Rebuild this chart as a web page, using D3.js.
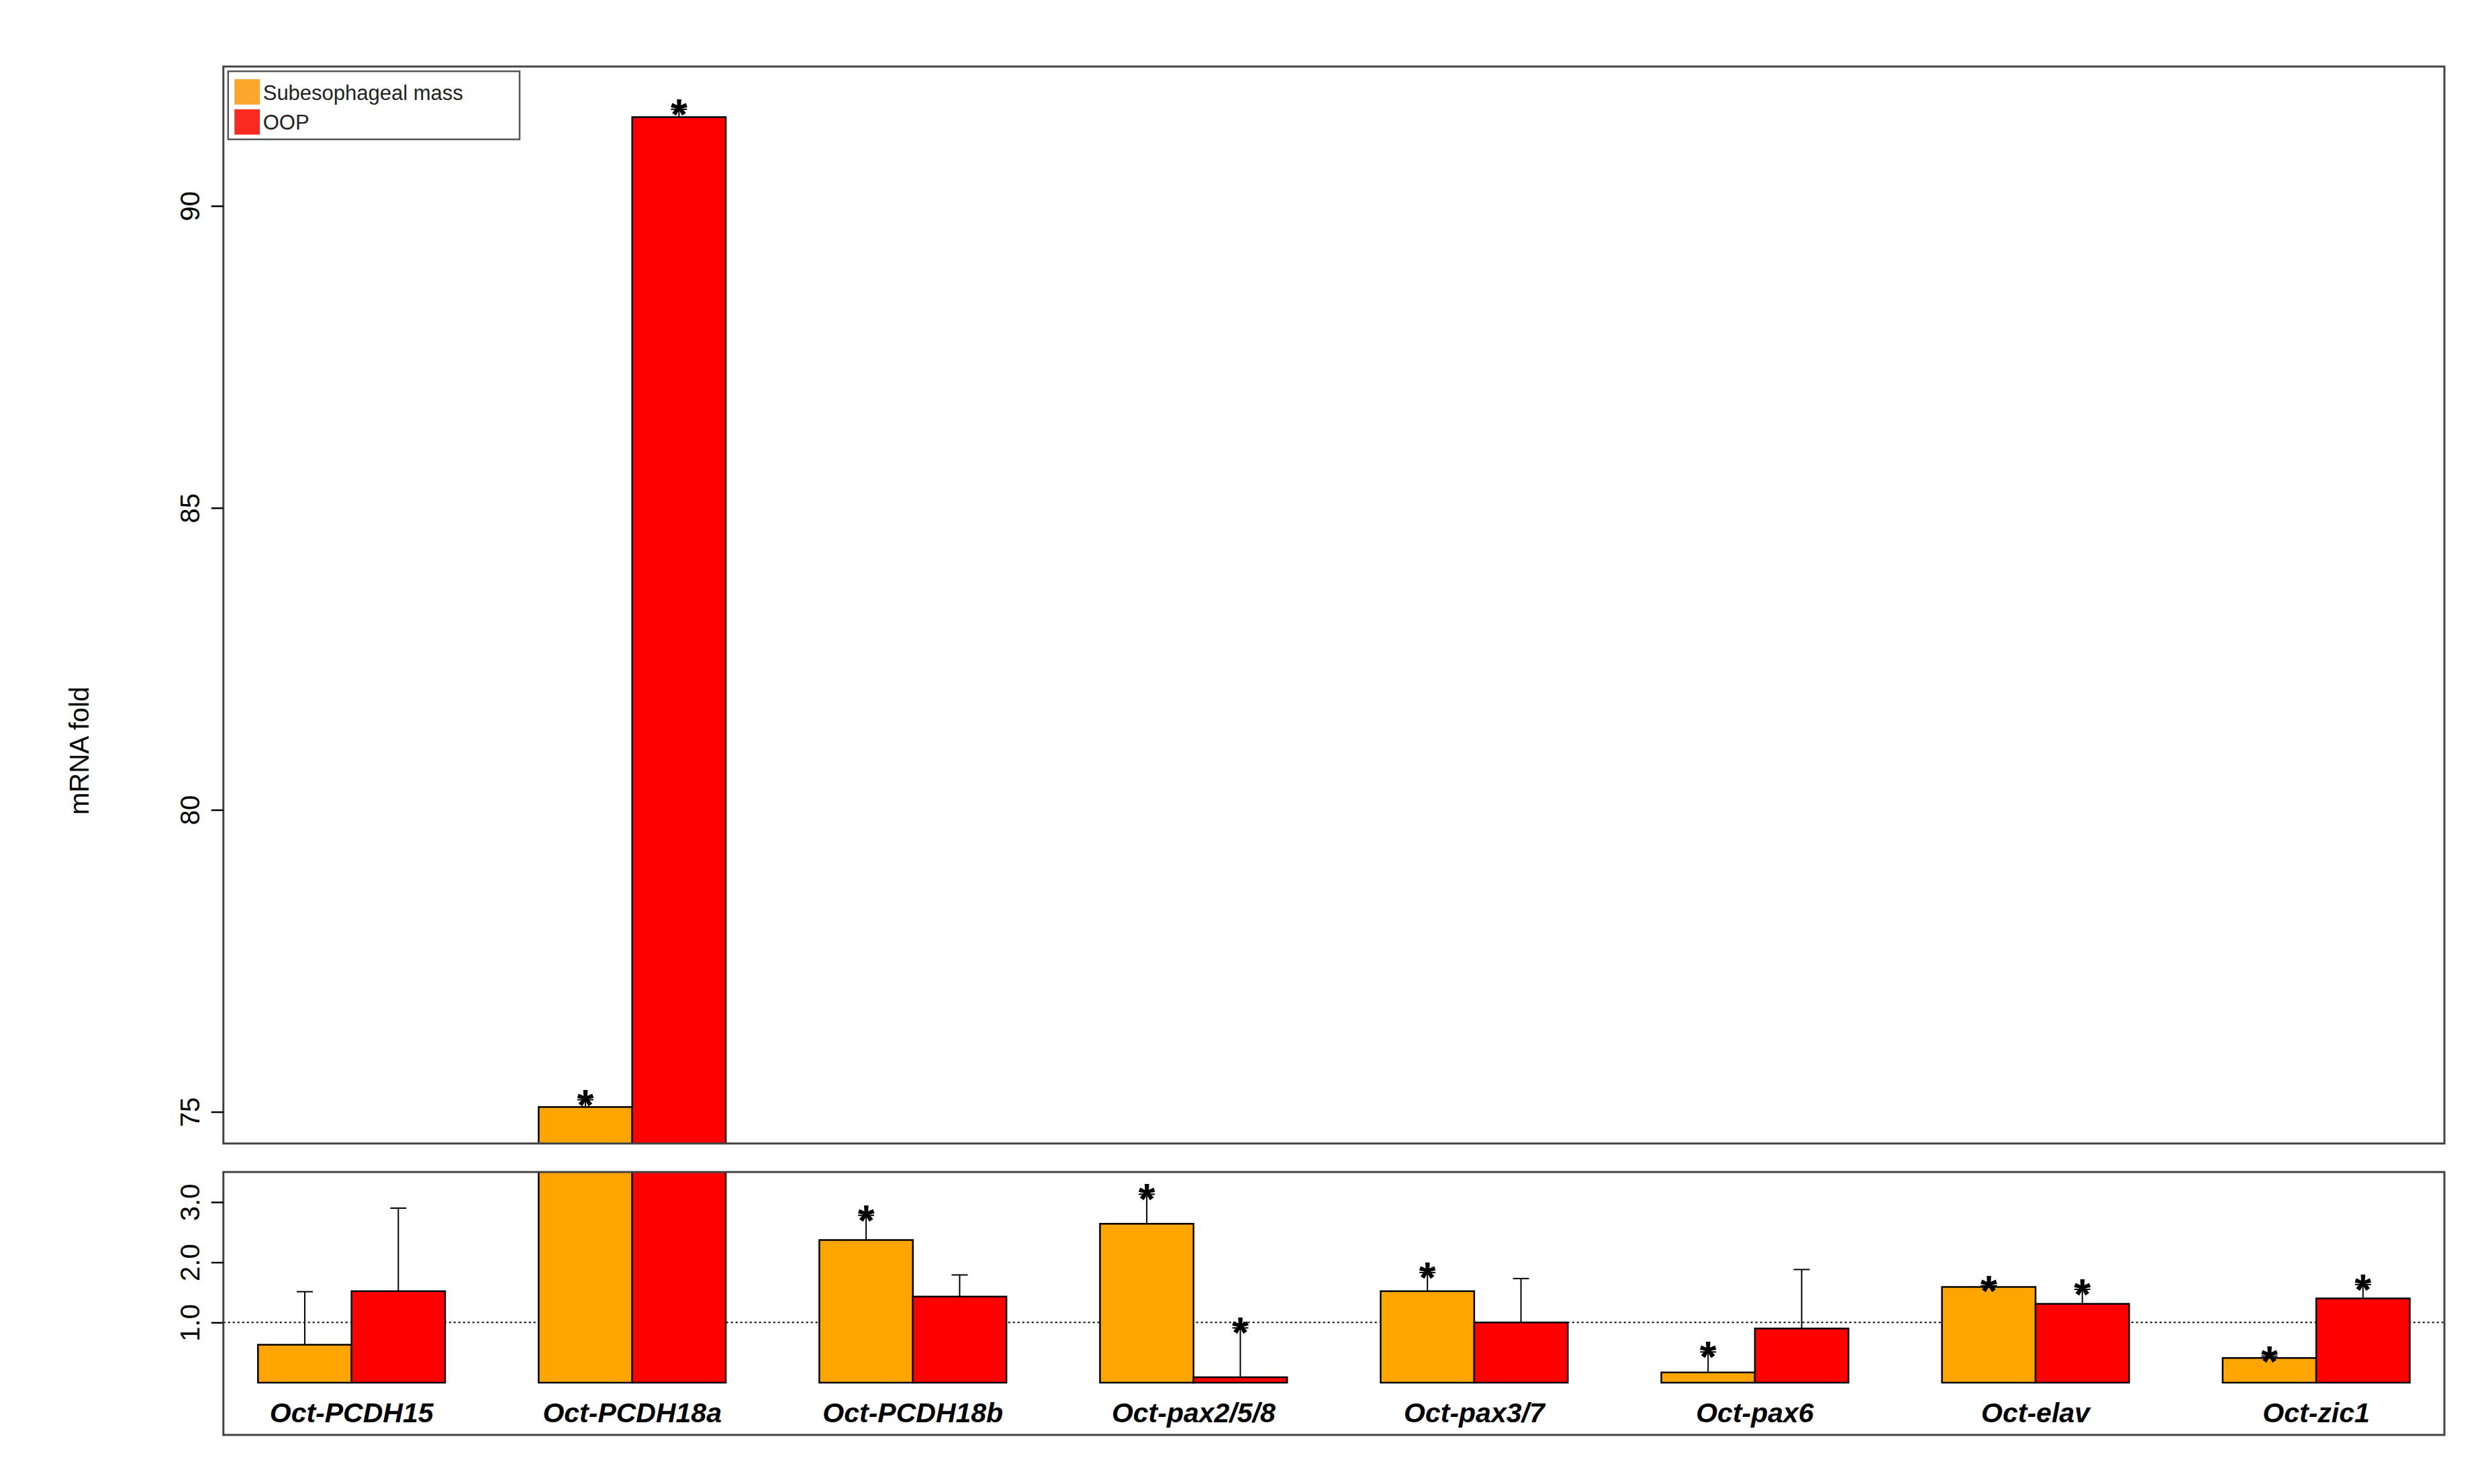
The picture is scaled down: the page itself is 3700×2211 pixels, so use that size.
<!DOCTYPE html>
<html><head><meta charset="utf-8">
<script src="https://cdn.jsdelivr.net/npm/d3@7"></script>
<style>body{margin:0;background:#fff}</style>
</head><body>
<svg id="chart"></svg>
<script>
const genes = ["Oct-PCDH15","Oct-PCDH18a","Oct-PCDH18b","Oct-pax2/5/8","Oct-pax3/7","Oct-pax6","Oct-elav","Oct-zic1"]
const seriesNames = ["Subesophageal mass","OOP"]
const colors = ["#FFA500","#FF0000"]
const subValues = [0.63, 75.08, 2.37, 2.64, 1.52, 0.17, 1.59, 0.41]
const subErrors = [1.51, 75.2, 2.78, 3.13, 1.83, 0.51, 1.61, 0.44]
const subStars = [false, true, true, true, true, true, true, true]
const oopValues = [1.52, 91.47, 1.43, 0.09, 1.0, 0.9, 1.31, 1.40]
const oopErrors = [2.9, 91.6, 1.79, 0.91, 1.73, 1.88, 1.55, 1.63]
const oopStars = [false, true, false, true, false, false, true, true]
const upperTicks = [75, 80, 85, 90]
const lowerTicks = [1, 2, 3]

const s = 3700 / 1568
const W = 3700, H = 2211
const svg = d3.select("#chart").attr("width", W).attr("height", H)
  .style("font-family", "Liberation Sans, Arial, sans-serif")

const left = 141 * s, right = 1543 * s
const up = {top: 42 * s, bottom: 722 * s}
const lo = {top: 740 * s, bottom: 906 * s}

const x = d3.scaleLinear().domain([-0.37, 23.37]).range([left, right])
const yUp = d3.scaleLinear().domain([75, 90]).range([702 * s, 130 * s])
const yLo = d3.scaleLinear().domain([0, 3]).range([873 * s, 759 * s])

const bars = []
genes.forEach((g, i) => {
  bars.push({i, k: 0, v: subValues[i], e: subErrors[i], star: subStars[i]})
  bars.push({i, k: 1, v: oopValues[i], e: oopErrors[i], star: oopStars[i]})
})
const bx = d => x(3 * d.i + d.k)

const defs = svg.append("defs")
defs.append("clipPath").attr("id", "cUp").append("rect")
  .attr("x", left).attr("y", up.top).attr("width", right - left).attr("height", up.bottom - up.top)
defs.append("clipPath").attr("id", "cLo").append("rect")
  .attr("x", left).attr("y", lo.top).attr("width", right - left).attr("height", lo.bottom - lo.top)

function panel(y, box, clip, isUpper) {
  const g = svg.append("g").attr("clip-path", `url(#${clip})`)
  if (!isUpper) {
    g.append("line").attr("x1", left).attr("x2", right).attr("y1", y(1)).attr("y2", y(1))
      .attr("stroke", "#000").attr("stroke-width", 2).attr("stroke-dasharray", "3,4")
  }
  const base = isUpper ? box.bottom + 10 : y(0)
  g.selectAll("rect.bar").data(bars.filter(d => isUpper ? d.v > 60 : true)).join("rect")
    .attr("class", "bar")
    .attr("x", bx).attr("width", x(1) - x(0))
    .attr("y", d => Math.max(y(d.v), box.top - 10))
    .attr("height", d => base - Math.max(y(d.v), box.top - 10))
    .attr("fill", d => colors[d.k]).attr("stroke", "#000").attr("stroke-width", 2.5)
  const eb = bars.filter(d => isUpper ? d.v > 60 : d.v < 60)
  const cx = d => bx(d) + (x(1) - x(0)) / 2
  g.selectAll("line.err").data(eb).join("line").attr("class", "err")
    .attr("x1", cx).attr("x2", cx).attr("y1", d => y(d.v)).attr("y2", d => y(d.e))
    .attr("stroke", "#000").attr("stroke-width", 2)
  g.selectAll("line.cap").data(eb).join("line").attr("class", "cap")
    .attr("x1", d => cx(d) - 12).attr("x2", d => cx(d) + 12).attr("y1", d => y(d.e)).attr("y2", d => y(d.e))
    .attr("stroke", "#000").attr("stroke-width", 2)
  g.selectAll("text.star").data(eb.filter(d => d.star)).join("text").attr("class", "star")
    .attr("x", cx).attr("y", d => y(d.e) + 30).attr("text-anchor", "middle")
    .attr("font-size", 64).attr("font-weight", "bold").text("*")
  svg.append("rect").attr("x", left).attr("y", box.top).attr("width", right - left)
    .attr("height", box.bottom - box.top).attr("fill", "none").attr("stroke", "#444").attr("stroke-width", 3)
  const ticks = isUpper ? upperTicks : lowerTicks
  const ax = svg.append("g").attr("transform", `translate(${left},0)`)
    .call(d3.axisLeft(y).tickValues(ticks).tickSize(18).tickPadding(14))
  ax.select(".domain").remove()
  ax.selectAll(".tick line").attr("stroke", "#000").attr("stroke-width", 2.5)
  ax.selectAll(".tick text").attr("font-size", 40).attr("fill", "#000")
    .attr("transform", "rotate(-90)").attr("text-anchor", "middle")
    .attr("x", 0).attr("dy", 0)
    .attr("y", -36)
}
panel(yUp, up, "cUp", true)
panel(yLo, lo, "cLo", false)

svg.selectAll("text.gene").data(genes).join("text").attr("class", "gene")
  .attr("x", (d, i) => x(3 * i + 1)).attr("y", 898 * s).attr("text-anchor", "middle")
  .attr("font-size", 41).attr("font-weight", "bold").attr("font-style", "italic").text(d => d)

svg.append("text").attr("transform", `translate(${56 * s},${474 * s}) rotate(-90)`)
  .attr("text-anchor", "middle").attr("font-size", 40).text("mRNA  fold")

const lg = svg.append("g")
lg.append("rect").attr("x", 144 * s).attr("y", 45 * s).attr("width", 184 * s).attr("height", 43 * s)
  .attr("fill", "#fff").attr("stroke", "#555").attr("stroke-width", 2.5)
seriesNames.forEach((n, i) => {
  lg.append("rect").attr("x", 148 * s).attr("y", (50 + i * 19) * s).attr("width", 16 * s).attr("height", 16 * s)
    .attr("fill", colors[i] === "#FFA500" ? "#FBA82A" : "#FA2A1E")
  lg.append("text").attr("x", 166 * s).attr("y", (63 + i * 19) * s).attr("font-size", 31).attr("fill", "#222").text(n)
})
</script>
</body></html>
